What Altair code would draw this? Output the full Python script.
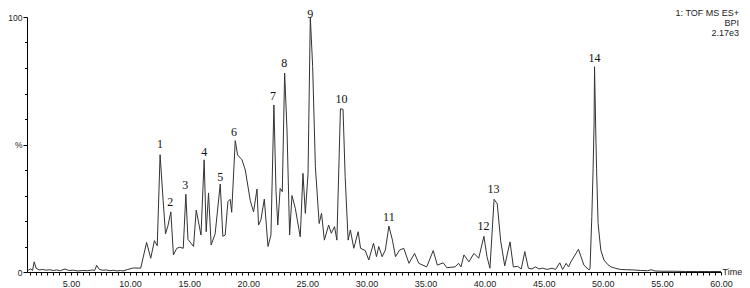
import altair as alt
import pandas as pd

# Retention time (min) and relative intensity (%)
times = [1.3, 1.4, 1.6, 1.75, 1.89, 2.05, 2.3, 2.6, 2.9, 3.2, 3.5, 3.8, 4.1, 4.5, 4.8,
         5.2, 5.6, 6.0, 6.4, 6.8, 7.0, 7.18, 7.4, 7.7, 8.0, 8.3, 8.6, 8.9, 9.2, 9.4,
         9.8, 10.3, 10.9, 11.4, 11.75, 12.06, 12.3, 12.54, 12.8, 13.0, 13.2, 13.45,
         13.67, 13.95, 14.2, 14.5, 14.72, 14.9, 15.37, 15.6, 16.0, 16.27, 16.44, 16.64,
         16.86, 17.2, 17.63, 17.85, 18.05, 18.28, 18.47, 18.6, 18.9, 19.1, 19.47, 19.75,
         20.17, 20.45, 20.74, 20.87, 21.07, 21.36, 21.67, 21.92, 22.17, 22.35, 22.5,
         22.7, 22.88, 23.08, 23.28, 23.5, 23.7, 23.98, 24.4, 24.63, 24.83, 25.06, 25.25,
         25.45, 25.68, 26.0, 26.2, 26.44, 26.8, 27.03, 27.3, 27.5, 27.8, 28.02, 28.2,
         28.45, 28.64, 28.93, 29.3, 29.5, 29.9, 30.2, 30.6, 30.85, 31.04, 31.33, 31.6,
         31.9, 32.2, 32.46, 32.8, 33.16, 33.6, 34.07, 34.43, 35.1, 35.65, 36.0, 36.5,
         36.8, 37.5, 37.8, 38.0, 38.25, 38.67, 39.1, 39.5, 39.94, 40.2, 40.45, 40.8,
         41.07, 41.35, 41.7, 42.15, 42.43, 42.8, 43.1, 43.4, 43.7, 44.0, 44.3, 44.6,
         44.9, 45.3, 45.7, 46.0, 46.36, 46.6, 46.9, 47.1, 47.3, 47.94, 48.4, 48.84,
         48.92, 49.07, 49.18, 49.26, 49.3, 49.4, 49.47, 49.6, 49.83, 50.1, 50.4, 50.7,
         51.1, 51.5, 52.0, 52.6, 53.2, 53.8, 54.1, 54.4, 55.0, 56.0, 57.0, 58.0, 59.0, 60.0]
intensity = [1.0, 0.8, 1.2, 0.6, 4.0, 1.5, 0.8, 1.0, 0.7, 0.9, 0.6, 0.8, 0.5, 1.2, 0.6,
             0.7, 0.4, 0.6, 0.5, 0.8, 0.6, 2.6, 1.0, 0.7, 0.8, 0.5, 0.7, 0.4, 0.6, 0.4,
             1.0, 1.6, 1.5, 11.6, 5.4, 12.3, 10.3, 46.0, 28.0, 15.0, 18.0, 23.6,
             6.7, 9.3, 9.7, 9.3, 30.5, 12.8, 10.0, 24.3, 14.5, 44.0, 15.8, 31.0,
             10.6, 15.0, 34.5, 14.0, 14.5, 27.6, 28.5, 23.4, 51.5, 45.9, 44.0, 40.0,
             28.0, 23.6, 32.5, 18.4, 20.4, 28.6, 10.0, 14.5, 65.5, 31.5, 18.4,
             32.8, 31.5, 78.0, 55.7, 14.5, 30.0, 25.0, 13.8, 38.7, 23.0, 38.7, 100.0,
             80.5, 41.3, 19.0, 23.0, 12.5, 18.4, 15.2, 17.8, 12.5, 64.0, 63.8, 37.4,
             12.5, 16.5, 9.3, 15.8, 9.3, 8.4, 4.7, 11.3, 6.0, 10.0, 6.0, 8.6,
             18.0, 12.5, 6.0, 8.6, 9.3, 3.4, 7.3, 3.4, 2.0, 8.4, 2.7, 3.6,
             1.7, 2.0, 3.4, 2.0, 6.7, 4.0, 7.3, 5.4, 14.0, 6.0, 1.5, 28.5,
             26.7, 12.5, 2.4, 11.8, 2.0, 2.2, 1.2, 8.0, 1.5, 1.2, 2.0, 1.2,
             1.5, 1.0, 1.5, 1.0, 3.6, 1.0, 3.4, 2.0, 4.0, 8.9, 2.7, 0.8,
             1.5, 21.7, 40.7, 58.0, 80.5, 55.7, 40.7, 19.0, 8.6, 4.7, 3.0, 2.0,
             1.4, 1.0, 0.9, 0.8, 0.6, 0.5, 0.9, 0.4, 0.3, 0.3, 0.2, 0.2, 0.2, 0.2]

# Peak annotations
peak_ids = [str(k) for k in range(1, 15)]
peak_times = [12.54, 13.40, 14.66, 16.27, 17.63, 18.8, 22.1, 23.05, 25.25, 27.9,
              31.9, 39.9, 40.76, 49.3]
label_heights = [48.8, 25.7, 32.4, 45.3, 35.5, 53.5, 67.6, 80.2, 99.5, 66.1,
                 20.0, 16.3, 30.8, 82.5]

x_label_values = [5, 10, 15, 20, 25, 30, 35, 40, 45, 50, 55, 60]
x_tick_values = [1.5 + 0.5 * k for k in range(118)]
y_tick_values = [0, 10, 20, 30, 40, 50, 60, 70, 80, 90, 100]
header_lines = ["1: TOF MS ES+", "BPI", "2.17e3"]

SANS = "Liberation Sans, Arial, sans-serif"
SERIF = "Liberation Serif, Times New Roman, serif"

df = pd.DataFrame({"t": times, "i": intensity})
lab = pd.DataFrame({"id": peak_ids, "t": peak_times, "h": label_heights})

xscale = alt.Scale(domain=[1.28, 60], nice=False, zero=False)
yscale = alt.Scale(domain=[0, 100], nice=False)

label_test = " || ".join(f"datum.value === {v}" for v in x_label_values)

xaxis = alt.Axis(
    values=x_tick_values,
    format=".2f",
    labelExpr=f"({label_test}) ? datum.label : ''",
    labelOverlap=False, labelFlush=False, grid=False,
    tickSize=3, tickColor="black", domainColor="black",
    labelFont=SANS, labelFontSize=9, labelColor="#222", labelPadding=4,
    title="Time", titleX=695, titleY=-1, titleAlign="left", titleBaseline="middle",
    titleFont=SANS, titleFontSize=9, titleFontWeight="normal", titleColor="#222",
)
yaxis = alt.Axis(
    values=y_tick_values,
    labelExpr="datum.value === 50 ? '%' : (datum.value === 0 || datum.value === 100 ? datum.label : '')",
    labelOverlap=False, grid=False,
    tickSize={"condition": {"test": "datum.value % 50 === 0", "value": 4}, "value": 2.5},
    tickColor="black", domainColor="black",
    labelFont=SANS, labelFontSize=8.5, labelColor="#222", labelPadding=1,
    title="",
)

line = alt.Chart(df).mark_line(color="#333333", strokeWidth=1, clip=True).encode(
    x=alt.X("t:Q", scale=xscale, axis=xaxis),
    y=alt.Y("i:Q", scale=yscale, axis=yaxis),
)

labels = alt.Chart(lab).mark_text(
    font=SERIF, fontSize=12, color="#111", baseline="alphabetic", align="center"
).encode(
    x=alt.X("t:Q", scale=xscale, axis=xaxis),
    y=alt.Y("h:Q", scale=yscale, axis=yaxis),
    text="id:N",
)

headers = [
    alt.Chart(pd.DataFrame({"s": [txt]})).mark_text(
        font=SANS, fontSize=9, color="#222", align="right", baseline="middle"
    ).encode(x=alt.value(712), y=alt.value(-4.5 + 10 * k), text="s:N")
    for k, txt in enumerate(header_lines)
]

chart = alt.layer(line, labels, *headers).properties(
    width=694, height=255,
    padding={"left": 19, "top": 9, "right": 21, "bottom": 16},
    autosize=alt.AutoSizeParams(type="none"),
).configure_view(strokeWidth=0)

chart.save("out.html", embed_options={"renderer": "svg", "actions": False})
